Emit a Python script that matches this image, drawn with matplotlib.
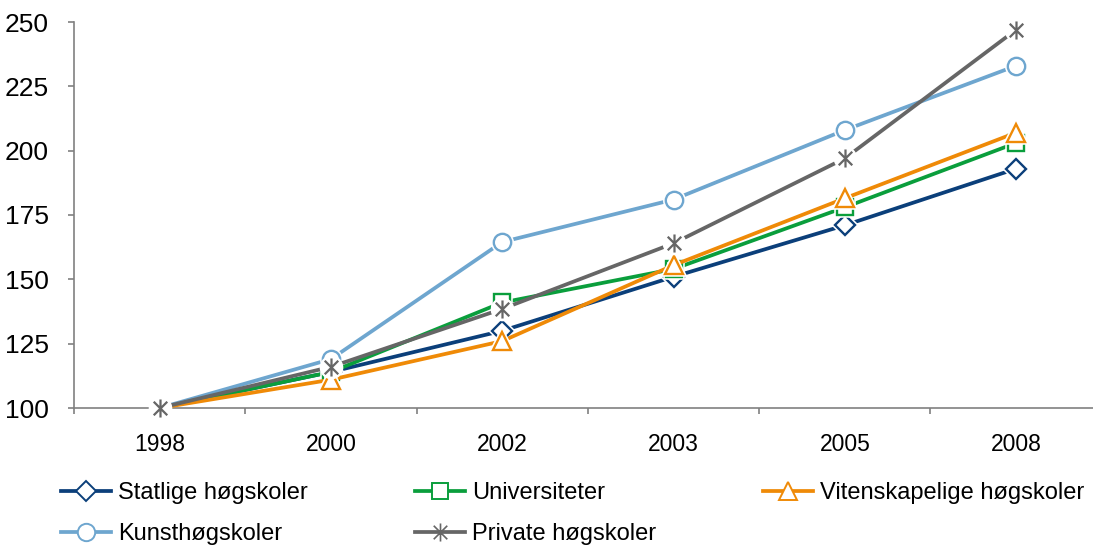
import matplotlib.pyplot as plt
from matplotlib.path import Path
from matplotlib.lines import Line2D

plt.rcParams['font.family'] = ['Liberation Sans', 'DejaVu Sans']

# Data (index, 1998 = 100)
years = ['1998', '2000', '2002', '2003', '2005', '2008']
statlige = [100, 114, 130, 151, 171, 193]
universiteter = [100, 114, 141, 154, 178, 203]
vitenskapelige = [100, 111, 126, 155.5, 181.5, 207]
kunst = [100, 119, 164.5, 181, 208, 233]
private = [100, 116, 138.5, 164, 197, 247]

# asterisk marker: vertical bar + X
ast = Path([(0, -1), (0, 1), (-0.75, -0.75), (0.75, 0.75), (-0.75, 0.75), (0.75, -0.75)],
           [Path.MOVETO, Path.LINETO, Path.MOVETO, Path.LINETO, Path.MOVETO, Path.LINETO])

series = [
    ('Statlige høgskoler', statlige, '#0b3f7a', 'D', 10.5),
    ('Universiteter', universiteter, '#0a9e3c', 's', 11),
    ('Vitenskapelige høgskoler', vitenskapelige, '#ef8a07', '^', 13),
    ('Kunsthøgskoler', kunst, '#6ea6cf', 'o', 12.5),
    ('Private høgskoler', private, '#666666', ast, 13),
]

fig = plt.figure(figsize=(10.93, 5.47), dpi=100)
ax = fig.add_axes([74 / 1093, 1 - 408 / 547, 1 - 74 / 1093, (408 - 22) / 547])

x = list(range(len(years)))
lw = 2.7
handles = {}
for i, (name, vals, col, mk, ms) in enumerate(series):
    z = 3 + i * 3
    ax.plot(x, vals, color=col, lw=lw, zorder=z, solid_capstyle='butt', clip_on=False)
    # white halo around the markers
    if mk is ast:
        ax.plot(x, vals, ls='none', marker='o', ms=ms + 3, mfc='white', mec='white',
                zorder=z + 1, clip_on=False)
        ax.plot(x, vals, ls='none', marker=mk, ms=ms, mec=col, mew=1.6,
                zorder=z + 2, clip_on=False)
        h = Line2D([], [], color=col, lw=lw, marker=mk, ms=ms, mec=col, mew=1.2)
    else:
        # the 1998 markers are hidden under the common start point
        ax.plot(x[1:], vals[1:], ls='none', marker=mk, ms=ms, mfc='white', mec='white', mew=4,
                zorder=z + 1, clip_on=False)
        ax.plot(x[1:], vals[1:], ls='none', marker=mk, ms=ms, mfc='white', mec=col, mew=1.7,
                zorder=z + 2, clip_on=False)
        h = Line2D([], [], color=col, lw=lw, marker=mk, ms=ms, mfc='white', mec=col, mew=1.4)
    handles[name] = h

ax.set_xlim(-0.5, -0.5 + (1093 - 74) / 171.3)
ax.set_ylim(100, 250)
ax.set_yticks([100, 125, 150, 175, 200, 225, 250])
ax.set_xticks(x)
ax.set_xticklabels(years)
ax.set_xticks([k - 0.5 for k in range(len(years))], minor=True)

for s in ['top', 'right']:
    ax.spines[s].set_visible(False)
for s in ['left', 'bottom']:
    ax.spines[s].set_color('#808080')
    ax.spines[s].set_linewidth(1.2)
    ax.spines[s].set_zorder(2)

ax.tick_params(axis='y', direction='out', length=4, width=1.2, color='#808080',
               labelsize=19, pad=14)
ax.tick_params(axis='x', which='major', length=0, labelsize=16.5, pad=18)
ax.tick_params(axis='x', which='minor', direction='out', length=4, width=1.2, color='#808080')

order = ['Statlige høgskoler', 'Kunsthøgskoler', 'Universiteter',
         'Private høgskoler', 'Vitenskapelige høgskoler']
fig.legend([handles[n] for n in order], order, ncol=3, loc='upper left',
           bbox_to_anchor=(40 / 1093, 1 - 461 / 547), frameon=False, fontsize=17,
           handlelength=2.1, handletextpad=0.3, columnspacing=4.55, labelspacing=0.8)

fig.savefig('out.png', dpi=100)
